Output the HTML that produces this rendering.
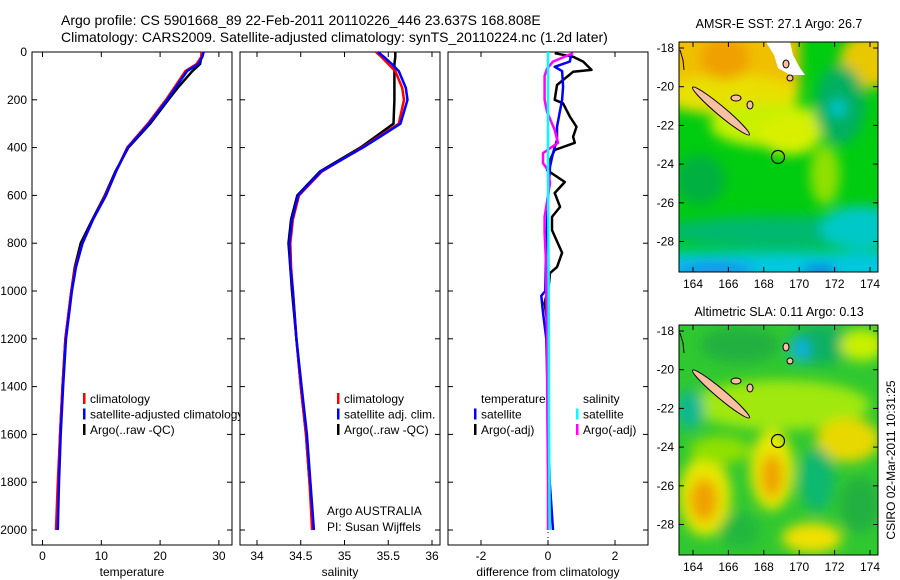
<!DOCTYPE html>
<html><head><meta charset="utf-8">
<style>
html,body{margin:0;padding:0;background:#fff;}
svg{display:block;font-family:"Liberation Sans",sans-serif;}
</style></head>
<body>
<svg id="chart" width="900" height="580" viewBox="0 0 900 580" xmlns="http://www.w3.org/2000/svg">
<defs>
<filter id="blur1" x="-50%" y="-50%" width="200%" height="200%"><feGaussianBlur stdDeviation="6"/></filter>
<clipPath id="clipM1"><rect x="679" y="42" width="199" height="230"/></clipPath>
<clipPath id="clipM2"><rect x="679" y="325" width="199" height="230"/></clipPath>
</defs>
<text x="61" y="25" font-size="14">Argo profile: CS 5901668_89 22-Feb-2011 20110226_446 23.637S 168.808E</text>
<text x="61" y="42" font-size="14">Climatology: CARS2009. Satellite-adjusted climatology: synTS_20110224.nc (1.2d later)</text>
<g id="panels"></g>

<!-- SST map -->
<g>
<text x="779" y="28" font-size="12.5" text-anchor="middle">AMSR-E SST: 27.1 Argo: 26.7</text>
<g clip-path="url(#clipM1)">
<rect x="679" y="42" width="199" height="230" fill="#00cc10"/>
<g filter="url(#blur1)">
<rect x="660" y="30" width="140" height="60" fill="#f0c000"/>
<ellipse cx="730" cy="95" rx="70" ry="20" fill="#e8e000"/>
<ellipse cx="725" cy="58" rx="25" ry="22" fill="#f0a000"/>
<ellipse cx="870" cy="60" rx="30" ry="28" fill="#e8c800"/>
<ellipse cx="770" cy="125" rx="60" ry="22" fill="#c8f000"/>
<ellipse cx="790" cy="135" rx="30" ry="20" fill="#d8f000"/>
<ellipse cx="825" cy="175" rx="15" ry="30" fill="#90e000"/>
<ellipse cx="840" cy="105" rx="25" ry="40" fill="#00b060"/>
<ellipse cx="838" cy="108" rx="8" ry="8" fill="#00c8d8"/>
<ellipse cx="700" cy="180" rx="25" ry="25" fill="#00b040"/>
<ellipse cx="780" cy="232" rx="120" ry="16" fill="#00b870"/>
<ellipse cx="860" cy="228" rx="40" ry="22" fill="#00c8c8"/>
<rect x="660" y="252" width="240" height="30" fill="#00c8e0"/>
<ellipse cx="715" cy="270" rx="40" ry="8" fill="#1890f0"/>
<ellipse cx="820" cy="272" rx="16" ry="6" fill="#1060e0"/>
</g>
<polygon points="766,42 790,42 793,55 800,68 805,75 790,75 778,68 774,55" fill="#ffffff"/>
<ellipse cx="721" cy="111" rx="37" ry="4.5" transform="rotate(40 721 111)" fill="#f8c0a0" stroke="#000" stroke-width="1"/>
<ellipse cx="736" cy="98" rx="5" ry="3" fill="#f8c0a0" stroke="#000"/>
<ellipse cx="750" cy="105" rx="3" ry="4" fill="#f8c0a0" stroke="#000"/>
<ellipse cx="786" cy="64" rx="3" ry="4" fill="#f8c0a0" stroke="#000"/>
<ellipse cx="790" cy="78" rx="3" ry="3" fill="#f8c0a0" stroke="#000"/>
<polyline points="680,50 683,60 684,70" fill="none" stroke="#000"/>
<circle cx="778" cy="157" r="6.5" fill="none" stroke="#000" stroke-width="1.2"/>
</g>
<rect x="679" y="42" width="199" height="230" fill="none" stroke="#000"/>
<g id="m1ticks"></g>
</g>

<!-- SLA map -->
<g>
<text x="779" y="316" font-size="12.5" text-anchor="middle">Altimetric SLA: 0.11 Argo: 0.13</text>
<g clip-path="url(#clipM2)">
<rect x="679" y="325" width="199" height="230" fill="#30c830"/>
<g filter="url(#blur1)">
<ellipse cx="780" cy="405" rx="90" ry="25" fill="#a0e810"/>
<ellipse cx="740" cy="345" rx="40" ry="18" fill="#20b040"/>
<ellipse cx="820" cy="345" rx="30" ry="20" fill="#10b060"/>
<ellipse cx="800" cy="350" rx="10" ry="12" fill="#10b0e0"/>
<ellipse cx="690" cy="410" rx="14" ry="20" fill="#10b890"/>
<ellipse cx="862" cy="345" rx="22" ry="16" fill="#c8f000"/>
<ellipse cx="848" cy="440" rx="32" ry="22" fill="#e8d800"/>
<ellipse cx="705" cy="496" rx="26" ry="40" fill="#e8e800"/>
<ellipse cx="704" cy="500" rx="14" ry="22" fill="#f0a000"/>
<ellipse cx="772" cy="470" rx="22" ry="40" fill="#e8e800"/>
<ellipse cx="772" cy="476" rx="11" ry="22" fill="#f0a000"/>
<ellipse cx="817" cy="480" rx="18" ry="32" fill="#10b870"/>
<ellipse cx="860" cy="505" rx="20" ry="28" fill="#20b040"/>
<ellipse cx="812" cy="538" rx="30" ry="15" fill="#f0e000"/>
<ellipse cx="740" cy="530" rx="20" ry="18" fill="#20b840"/>
<ellipse cx="720" cy="450" rx="30" ry="14" fill="#90e000"/>
</g>
<ellipse cx="721" cy="394" rx="37" ry="4.5" transform="rotate(40 721 394)" fill="#f8c0a0" stroke="#000" stroke-width="1"/>
<ellipse cx="736" cy="381" rx="5" ry="3" fill="#f8c0a0" stroke="#000"/>
<ellipse cx="750" cy="388" rx="3" ry="4" fill="#f8c0a0" stroke="#000"/>
<ellipse cx="786" cy="347" rx="3" ry="4" fill="#f8c0a0" stroke="#000"/>
<ellipse cx="790" cy="361" rx="3" ry="3" fill="#f8c0a0" stroke="#000"/>
<polyline points="680,333 683,343 684,353" fill="none" stroke="#000"/>
<circle cx="778" cy="441" r="6.5" fill="none" stroke="#000" stroke-width="1.2"/>
</g>
<rect x="679" y="325" width="199" height="230" fill="none" stroke="#000"/>
<g id="m2ticks"></g>
</g>
<text transform="translate(895 460) rotate(-90)" font-size="12" text-anchor="middle">CSIRO 02-Mar-2011 10:31:25</text>
</svg>
<script>
const depthTicks=[0,200,400,600,800,1000,1200,1400,1600,1800,2000];
const tempTicks=[0,10,20,30];
const salTicks=[34,34.5,35,35.5,36];
const diffTicks=[-2,0,2];
const lonTicks=[164,166,168,170,172,174];
const latTicks=[-18,-20,-22,-24,-26,-28];

const depths=[0,20,50,80,150,200,300,400,500,600,700,800,900,1000,1200,1400,1600,1800,2000];
const tempClim=[27.2,27.0,26.2,24.3,22.4,21.0,17.9,14.4,12.5,10.7,8.6,6.8,5.6,4.9,3.9,3.4,3.0,2.6,2.3];
const tempSat=[27.4,27.2,26.5,24.6,22.6,21.2,18.1,14.5,12.5,10.8,8.6,6.8,5.7,5.0,4.0,3.5,3.1,2.8,2.6];
const tempArgo=[27.1,27.0,26.8,25.5,23.0,21.4,18.3,14.6,12.4,10.6,8.5,6.5,5.5,4.9,3.9,3.4,3.0,2.7,2.5];
const salClim=[35.36,35.42,35.5,35.58,35.66,35.68,35.62,35.2,34.74,34.48,34.41,34.38,34.39,34.41,34.45,34.5,34.56,34.6,34.63];
const salSat=[35.38,35.45,35.54,35.62,35.7,35.72,35.64,35.21,34.73,34.47,34.4,34.37,34.38,34.41,34.45,34.51,34.57,34.61,34.65];
const salArgo=[35.58,35.58,35.57,35.57,35.57,35.57,35.56,35.18,34.72,34.46,34.39,34.36,34.38,34.4,34.45,34.5,34.56,34.6,34.64];

const dTempArgoDepth=[5,20,40,75,83,138,200,215,270,313,355,380,410,452,494,544,590,648,690,745,840,900,925,980,1050,1100,1200,1500,1800,2000];
const dTempArgo=[0.2,0.75,1.05,1.3,0.75,0.27,0.2,0.45,0.65,0.85,0.75,0.8,0.2,0.06,-0.03,0.5,0.2,0.36,0.12,0.12,0.42,0.27,0.06,0.02,-0.1,-0.05,0,0,0.02,0.05];
const dTempSatDepth=[5,40,62,80,145,200,313,368,423,480,620,800,1000,1020,1090,1200,1500,1800,1900,2000];
const dTempSat=[0.7,0.65,0.2,0.42,0.45,0.42,0.27,0.27,0.15,0.06,0,-0.05,-0.08,-0.2,-0.15,-0.05,0,0.05,0.1,0.15];
const dSalArgoDepth=[5,40,70,100,200,250,326,380,423,465,494,548,690,757,900,1000,1200,1500,1800,2000];
const dSalArgo=[0.75,0.15,-0.03,-0.1,-0.1,-0.03,0.2,0.3,-0.15,-0.15,0,0.06,-0.1,-0.1,-0.05,-0.05,-0.03,-0.02,0,0];
const dSalSatDepth=[0,500,1000,1500,2000];
const dSalSat=[0.0,0.0,0.02,0.03,0.05];

const NS="http://www.w3.org/2000/svg";
const root=document.getElementById('panels');
function mk(tag,attrs,parent){const e=document.createElementNS(NS,tag);for(const k in attrs)e.setAttribute(k,attrs[k]);(parent||root).appendChild(e);return e;}
const yD=d=>52+d*0.239;
const panels=[
 {x0:32,x1:232,xa:42.5,xs:5.88,ticks:tempTicks,label:'temperature',name:'temperature-panel'},
 {x0:240,x1:440,xa:257-34*87.5,xs:87.5,ticks:salTicks,label:'salinity',name:'salinity-panel'},
 {x0:448,x1:648,xa:548,xs:33.5,ticks:diffTicks,label:'difference from climatology',name:'difference-panel'}
];
const yTop=52,yBot=545;
function line(p,dep,vals,color,name){
  const pts=dep.map((d,i)=>(p.xa+vals[i]*p.xs).toFixed(1)+','+yD(d).toFixed(1)).join(' ');
  const e=mk('polyline',{points:pts,fill:'none',stroke:color,'stroke-width':2.5,'stroke-linejoin':'round'},p.g);
  
  
}
panels.forEach((p,pi)=>{
  const g=mk('g',{});
  
  
  p.g=g;
  mk('rect',{x:p.x0,y:yTop,width:p.x1-p.x0,height:yBot-yTop,fill:'#fff',stroke:'#000','stroke-width':1},g);
  depthTicks.forEach(d=>{
    mk('line',{x1:p.x0,x2:p.x0+5,y1:yD(d),y2:yD(d),stroke:'#000'},g);
    mk('line',{x1:p.x1,x2:p.x1-5,y1:yD(d),y2:yD(d),stroke:'#000'},g);
    if(pi===0){const t=mk('text',{x:p.x0-5,y:yD(d)+4,'font-size':12,'text-anchor':'end'},g);t.textContent=d;
      
      }
  });
  p.ticks.forEach(v=>{
    const x=p.xa+v*p.xs;
    mk('line',{x1:x,x2:x,y1:yBot,y2:yBot-5,stroke:'#000'},g);
    mk('line',{x1:x,x2:x,y1:yTop,y2:yTop+5,stroke:'#000'},g);
    const t=mk('text',{x:x,y:yBot+15,'font-size':12,'text-anchor':'middle'},g);t.textContent=v;
    
    
  });
  const lt=mk('text',{x:(p.x0+p.x1)/2,y:576,'font-size':12,'text-anchor':'middle'},g);lt.textContent=p.label;
  
  
});
function legend(p,x,y,items){
  items.forEach((it,i)=>{
    if(it[1])mk('rect',{x:x,y:y+i*15.5-10,width:2.5,height:11,fill:it[1]},p.g);
    const t=mk('text',{x:x+7,y:y+i*15.5,'font-size':12},p.g);t.textContent=it[0];
    
    
  });
}
const P0=panels[0],P1=panels[1],P2=panels[2];
line(P0,depths,tempArgo,'#000','temp-argo-line');
line(P0,depths,tempClim,'#f00','temp-climatology-line');
line(P0,depths,tempSat,'#00f','temp-satellite-line');
legend(P0,83,403,[['climatology','#f00'],['satellite-adjusted climatology','#00f'],['Argo(..raw -QC)','#000']]);
line(P1,depths,salArgo,'#000','sal-argo-line');
line(P1,depths,salClim,'#f00','sal-climatology-line');
line(P1,depths,salSat,'#00f','sal-satellite-line');
legend(P1,337,403,[['climatology','#f00'],['satellite adj. clim.','#00f'],['Argo(..raw -QC)','#000']]);
{const t=mk('text',{x:327,y:515,'font-size':12},P1.g);t.textContent='Argo AUSTRALIA';
 
 
 const t2=mk('text',{x:327,y:531,'font-size':12},P1.g);t2.textContent='PI: Susan Wijffels';
 
 }
mk('line',{x1:548,x2:548,y1:yTop,y2:yBot,stroke:'#000','stroke-dasharray':'1,4'},P2.g);
line(P2,dTempArgoDepth,dTempArgo,'#000','temp-diff-argo-line');
line(P2,dTempSatDepth,dTempSat,'#00f','temp-diff-satellite-line');
line(P2,dSalArgoDepth,dSalArgo,'#f0f','sal-diff-argo-line');
line(P2,dSalSatDepth,dSalSat,'#0ff','sal-diff-satellite-line');
legend(P2,474,403,[['temperature',null],['satellite','#00f'],['Argo(-adj)','#000']]);
legend(P2,576,403,[['salinity',null],['satellite','#0ff'],['Argo(-adj)','#f0f']]);

function mapTicks(id,top){
  const g=document.getElementById(id);
  const lx=v=>693+(v-164)*17.7;
  const ly=v=>top+6+(-18-v)*19.35;
  lonTicks.forEach(v=>{
    mk('line',{x1:lx(v),x2:lx(v),y1:top+230,y2:top+225,stroke:'#000'},g);
    mk('line',{x1:lx(v),x2:lx(v),y1:top,y2:top+5,stroke:'#000'},g);
    const t=mk('text',{x:lx(v),y:top+246,'font-size':12,'text-anchor':'middle'},g);t.textContent=v;
    
    
  });
  latTicks.forEach(v=>{
    mk('line',{x1:679,x2:684,y1:ly(v),y2:ly(v),stroke:'#000'},g);
    mk('line',{x1:878,x2:873,y1:ly(v),y2:ly(v),stroke:'#000'},g);
    const t=mk('text',{x:674,y:ly(v)+4,'font-size':12,'text-anchor':'end'},g);t.textContent=v;
    
    
  });
}
mapTicks('m1ticks',42);
mapTicks('m2ticks',325);
</script>
</body></html>
